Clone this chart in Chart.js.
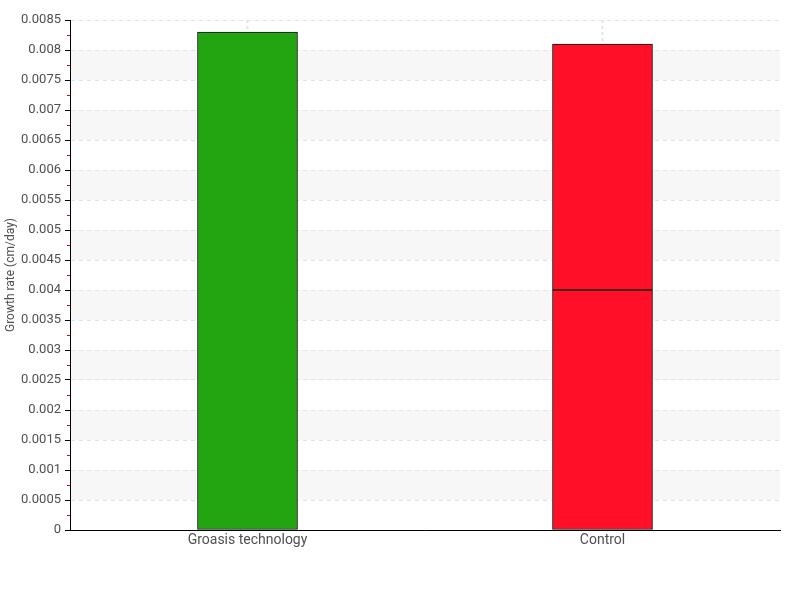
<!DOCTYPE html>
<html>
<head>
<meta charset="utf-8">
<script src="https://cdn.jsdelivr.net/npm/chart.js@4/dist/chart.umd.min.js"></script>
<style>
  html, body { margin: 0; padding: 0; background: #fff; }
</style>
</head>
<body>
<canvas id="chart" width="800" height="600"></canvas>
<script>
// data
const categories = ['Groasis technology', 'Control'];
const lowerPart = [0.0083, 0.004];
const upperPart = [null, 0.0041];
const totals = [0.0083, 0.0081];
const errors = [0.0003, 0.0005];
const barColors = ['#22a511', '#ff1028'];
const yMax = 0.0085;
const yStep = 0.0005;

const fontFamily = "Roboto, sans-serif";

// shaded bands, error bars and red minor ticks
const decorations = {
  id: 'decorations',
  beforeDatasetsDraw(chart) {
    const { ctx, chartArea, scales } = chart;
    const y = scales.y, x = scales.x;
    ctx.save();
    // error bars, behind the bars
    ctx.beginPath();
    ctx.rect(chartArea.left, chartArea.top - 2, chartArea.width, chartArea.height + 2);
    ctx.clip();
    ctx.strokeStyle = '#e4e4e4';
    ctx.lineWidth = 2;
    ctx.setLineDash([3, 3]);
    totals.forEach((v, i) => {
      const px = x.getPixelForValue(i);
      ctx.beginPath();
      ctx.moveTo(px, y.getPixelForValue(v + errors[i]));
      ctx.lineTo(px, y.getPixelForValue(v - errors[i]));
      ctx.stroke();
    });
    ctx.restore();
  },
  beforeDraw(chart) {
    const { ctx, chartArea, scales } = chart;
    const y = scales.y;
    ctx.save();
    ctx.fillStyle = '#f7f7f7';
    for (let v = yStep; v < yMax; v += 2 * yStep) {
      const top = y.getPixelForValue(v + yStep);
      const bot = y.getPixelForValue(v);
      ctx.fillRect(chartArea.left, top, chartArea.right - chartArea.left, bot - top);
    }
    ctx.restore();
  },
  afterDraw(chart) {
    const { ctx, chartArea, scales } = chart;
    const y = scales.y;
    ctx.save();
    ctx.strokeStyle = '#e00000';
    ctx.lineWidth = 1;
    for (let v = yStep / 2; v < yMax; v += yStep) {
      const py = Math.round(y.getPixelForValue(v)) + 0.5;
      ctx.beginPath();
      ctx.moveTo(chartArea.left - 3, py);
      ctx.lineTo(chartArea.left, py);
      ctx.stroke();
    }
    ctx.restore();
  }
};

new Chart(document.getElementById('chart'), {
  type: 'bar',
  data: {
    labels: categories,
    datasets: [
      {
        data: lowerPart,
        backgroundColor: barColors,
        borderColor: '#111',
        borderWidth: 1,
        borderSkipped: false,
        barThickness: 100
      },
      {
        data: upperPart,
        backgroundColor: barColors,
        borderColor: '#111',
        borderWidth: 1,
        borderSkipped: false,
        barThickness: 100
      }
    ]
  },
  options: {
    responsive: false,
    animation: false,
    layout: { padding: { top: 20, right: 20, left: 0, bottom: 0 } },
    plugins: {
      legend: { display: false },
      tooltip: { enabled: false }
    },
    scales: {
      x: {
        stacked: true,
        grid: { display: false, drawTicks: false },
        border: { color: '#000', width: 1 },
        ticks: {
          color: '#505050',
          padding: 2,
          font: { family: fontFamily, size: 14 }
        },
        afterFit(scale) { scale.height = 70; }
      },
      y: {
        stacked: true,
        min: 0,
        max: yMax,
        ticks: {
          stepSize: yStep,
          color: '#505050',
          padding: 4,
          font: { family: fontFamily, size: 13 },
          callback: (v) => String(+v.toFixed(5))
        },
        grid: {
          color: '#e3e3e3',
          tickColor: '#000',
          tickLength: 5,
          lineWidth: 1
        },
        border: { color: '#000', width: 1, dash: [4, 4] },
        title: {
          display: true,
          text: 'Growth rate (cm/day)',
          color: '#505050',
          padding: { top: 4, bottom: 0 },
          font: { family: fontFamily, size: 12 }
        },
        afterFit(scale) { scale.width = 70; }
      }
    }
  },
  plugins: [decorations]
});
</script>
</body>
</html>
